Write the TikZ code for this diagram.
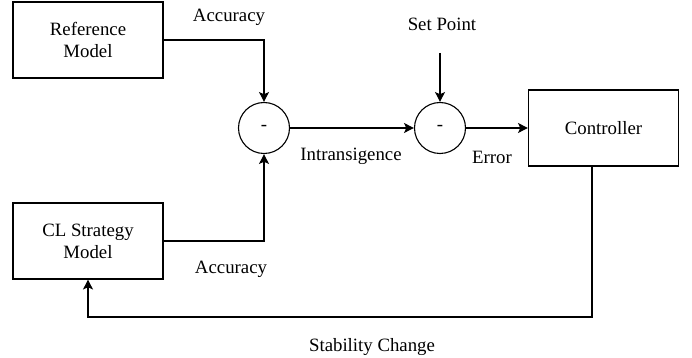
\documentclass[tikz,border=0pt]{standalone}
\usepackage{fontspec}
\setmainfont{Liberation Serif}
\usetikzlibrary{arrows.meta}
\begin{document}
\begin{tikzpicture}[x=0.5pt,y=-0.5pt,
  font=\fontsize{9.4}{11}\selectfont,
  block/.style={draw,line width=0.55pt,minimum width=75pt,minimum height=38pt,inner sep=0pt,align=center},
  sumnode/.style={draw,circle,line width=0.55pt,minimum size=25.5pt,inner sep=0pt},
  wire/.style={line width=0.55pt},
  arr/.style={wire,-{Stealth[length=5pt,width=5pt,inset=1.2pt]}},
  lbl/.style={inner sep=0pt}]
\useasboundingbox (0,0) rectangle (692,358);

% blocks
\node[block] (ref) at (88,40) {Reference\\Model};
\node[block] (cl) at (88,241) {CL Strategy\\Model};
\node[block] (ctrl) at (603.5,128) {Controller};

% summing junctions
\node[sumnode] (s1) at (264,128) {-};
\node[sumnode] (s2) at (440,128) {-};

% set point input
\coordinate (sp) at (440,53);
\node[lbl] (splbl) at (442,24) {Set Point};

% feedback corners
\coordinate (fbR) at (592,317);
\coordinate (fbL) at (88,317);

% connectors
\draw[arr] (ref.east) -| (s1.north);
\draw[arr] (cl.east) -| (s1.south);
\draw[arr] (s1.east) -- (s2.west);
\draw[arr] (sp) -- (s2.north);
\draw[arr] (s2.east) -- (ctrl.west);
\draw[arr] (ctrl.south -| fbR) -- (fbR) -- (fbL) -- (cl.south);

% signal labels
\node[lbl] (l1) at (229,17) {Accuracy};
\node[lbl] (l2) at (231,269) {Accuracy};
\node[lbl] (l3) at (351,156) {Intransigence};
\node[lbl] (l4) at (492,157) {Error};
\node[lbl] (l5) at (372,347) {Stability Change};
\end{tikzpicture}
\end{document}
